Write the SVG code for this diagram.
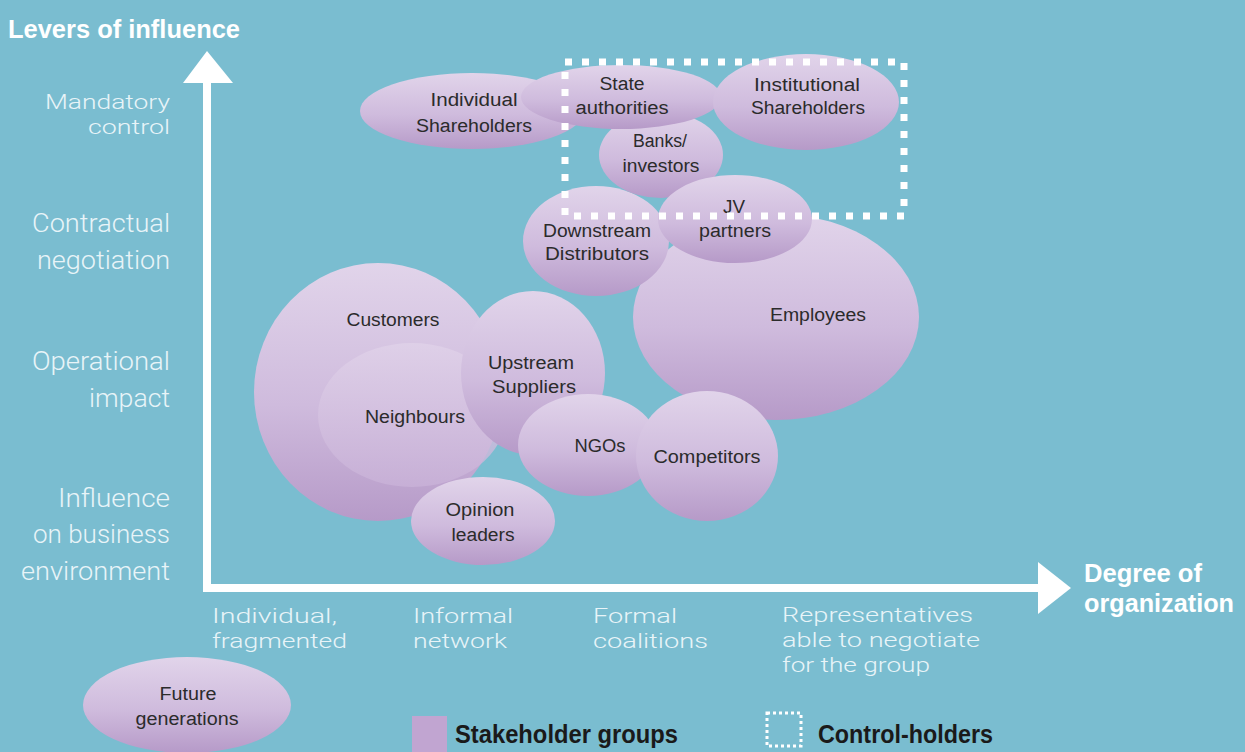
<svg xmlns="http://www.w3.org/2000/svg" width="1245" height="752" viewBox="0 0 1245 752">
<defs>
<linearGradient id="g" x1="0" y1="0" x2="0" y2="1">
<stop offset="0" stop-color="#e1d4ea"/>
<stop offset="0.55" stop-color="#cfbbdd"/>
<stop offset="1" stop-color="#b69ac8"/>
</linearGradient>
<linearGradient id="gl" x1="0" y1="0" x2="0" y2="1">
<stop offset="0" stop-color="#e0d2e9"/>
<stop offset="1" stop-color="#c9b2d8"/>
</linearGradient>
</defs>
<style>
.bub{fill:url(#g)}
.nt{font-family:"Liberation Sans",Arial,sans-serif;font-size:18px;fill:#2b2b2b;text-anchor:middle}
.ax{font-family:Roboto,"Liberation Sans",sans-serif;font-weight:300;font-size:25px;fill:#e8f4f8}
.tight{font-size:21px}
.axl{text-anchor:end}
.hd{font-family:"Liberation Sans",Arial,sans-serif;font-weight:bold;font-size:26px;fill:#ffffff}
.lg{font-family:"Liberation Sans",Arial,sans-serif;font-weight:bold;font-size:26px;fill:#1a1a1a}
.arr{stroke:#ffffff;stroke-width:8;fill:none}
.ah{fill:#ffffff}
</style>
<rect width="1245" height="752" fill="#7abdd0"/>

<text class="hd" x="8" y="38" textLength="232" lengthAdjust="spacingAndGlyphs">Levers of influence</text>
<text class="hd" x="1084" y="582" textLength="118" lengthAdjust="spacingAndGlyphs">Degree of</text>
<text class="hd" x="1084" y="612" textLength="150" lengthAdjust="spacingAndGlyphs">organization</text>

<g id="y-labels">
<text class="ax axl tight" x="170" y="109" textLength="125" lengthAdjust="spacingAndGlyphs">Mandatory</text>
<text class="ax axl tight" x="170" y="134" textLength="82" lengthAdjust="spacingAndGlyphs">control</text>
<text class="ax axl" x="170" y="232" textLength="138" lengthAdjust="spacingAndGlyphs">Contractual</text>
<text class="ax axl" x="170" y="269" textLength="133" lengthAdjust="spacingAndGlyphs">negotiation</text>
<text class="ax axl" x="170" y="370" textLength="138" lengthAdjust="spacingAndGlyphs">Operational</text>
<text class="ax axl" x="170" y="407" textLength="81" lengthAdjust="spacingAndGlyphs">impact</text>
<text class="ax axl" x="170" y="507" textLength="112" lengthAdjust="spacingAndGlyphs">Influence</text>
<text class="ax axl" x="170" y="543" textLength="137" lengthAdjust="spacingAndGlyphs">on business</text>
<text class="ax axl" x="170" y="580" textLength="149" lengthAdjust="spacingAndGlyphs">environment</text>
</g>

<g id="x-labels">
<text class="ax tight" x="212" y="623" textLength="125" lengthAdjust="spacingAndGlyphs">Individual,</text>
<text class="ax tight" x="212" y="648" textLength="135" lengthAdjust="spacingAndGlyphs">fragmented</text>
<text class="ax tight" x="413" y="623" textLength="100" lengthAdjust="spacingAndGlyphs">Informal</text>
<text class="ax tight" x="413" y="648" textLength="94" lengthAdjust="spacingAndGlyphs">network</text>
<text class="ax tight" x="593" y="623" textLength="84" lengthAdjust="spacingAndGlyphs">Formal</text>
<text class="ax tight" x="593" y="648" textLength="115" lengthAdjust="spacingAndGlyphs">coalitions</text>
<text class="ax tight" x="782" y="622" textLength="191" lengthAdjust="spacingAndGlyphs">Representatives</text>
<text class="ax tight" x="782" y="647" textLength="198" lengthAdjust="spacingAndGlyphs">able to negotiate</text>
<text class="ax tight" x="782" y="672" textLength="148" lengthAdjust="spacingAndGlyphs">for the group</text>
</g>

<g id="connectors">
<line class="arr" x1="207" y1="80" x2="207" y2="592"/>
<line class="arr" x1="203" y1="588" x2="1040" y2="588"/>
<polygon class="ah" points="183,83 207,51 233,83"/>
<polygon class="ah" points="1038,562 1071,588 1038,614"/>
</g>

<g id="employees"><ellipse class="bub" cx="776" cy="317" rx="143" ry="103"/><text class="nt" x="818" y="321" textLength="96" lengthAdjust="spacingAndGlyphs">Employees</text></g>
<g id="downstream-distributors"><ellipse class="bub" cx="596" cy="241" rx="73" ry="55"/><text class="nt" x="597" y="237" textLength="108" lengthAdjust="spacingAndGlyphs">Downstream</text><text class="nt" x="597" y="260" textLength="104" lengthAdjust="spacingAndGlyphs">Distributors</text></g>
<g id="banks-investors"><ellipse class="bub" cx="661" cy="155" rx="62" ry="43"/><text class="nt" x="660" y="147" textLength="54" lengthAdjust="spacingAndGlyphs">Banks/</text><text class="nt" x="661" y="172" textLength="77" lengthAdjust="spacingAndGlyphs">investors</text></g>
<g id="jv-partners"><ellipse class="bub" cx="735" cy="219" rx="77" ry="44"/><text class="nt" x="734" y="213" textLength="22" lengthAdjust="spacingAndGlyphs">JV</text><text class="nt" x="735" y="237" textLength="72" lengthAdjust="spacingAndGlyphs">partners</text></g>
<g id="individual-shareholders"><ellipse class="bub" cx="472" cy="111" rx="112" ry="38"/><text class="nt" x="474" y="106" textLength="87" lengthAdjust="spacingAndGlyphs">Individual</text><text class="nt" x="474" y="132" textLength="116" lengthAdjust="spacingAndGlyphs">Shareholders</text></g>
<g id="state-authorities"><ellipse class="bub" cx="621" cy="97" rx="100" ry="32"/><text class="nt" x="622" y="90" textLength="45" lengthAdjust="spacingAndGlyphs">State</text><text class="nt" x="622" y="114" textLength="93" lengthAdjust="spacingAndGlyphs">authorities</text></g>
<g id="institutional-shareholders"><ellipse class="bub" cx="806" cy="102" rx="93" ry="48"/><text class="nt" x="807" y="91" textLength="106" lengthAdjust="spacingAndGlyphs">Institutional</text><text class="nt" x="808" y="114" textLength="114" lengthAdjust="spacingAndGlyphs">Shareholders</text></g>

<g id="customers"><ellipse class="bub" cx="378" cy="392" rx="124" ry="129"/><text class="nt" x="393" y="326" textLength="93" lengthAdjust="spacingAndGlyphs">Customers</text></g>
<g id="neighbours"><ellipse fill="url(#gl)" cx="412" cy="415" rx="94" ry="72" opacity="0.8"/><text class="nt" x="415" y="423" textLength="100" lengthAdjust="spacingAndGlyphs">Neighbours</text></g>
<g id="upstream-suppliers"><ellipse class="bub" cx="533" cy="373" rx="72" ry="82"/><text class="nt" x="531" y="369" textLength="86" lengthAdjust="spacingAndGlyphs">Upstream</text><text class="nt" x="534" y="393" textLength="84" lengthAdjust="spacingAndGlyphs">Suppliers</text></g>
<g id="ngos"><ellipse class="bub" cx="588" cy="445" rx="70" ry="51"/><text class="nt" x="600" y="452" textLength="51" lengthAdjust="spacingAndGlyphs">NGOs</text></g>
<g id="competitors"><ellipse class="bub" cx="707" cy="456" rx="71" ry="65"/><text class="nt" x="707" y="463" textLength="107" lengthAdjust="spacingAndGlyphs">Competitors</text></g>
<g id="opinion-leaders"><ellipse class="bub" cx="483" cy="521" rx="72" ry="44"/><text class="nt" x="480" y="516" textLength="69" lengthAdjust="spacingAndGlyphs">Opinion</text><text class="nt" x="483" y="541" textLength="63" lengthAdjust="spacingAndGlyphs">leaders</text></g>
<g id="future-generations"><ellipse class="bub" cx="187" cy="705" rx="104" ry="48"/><text class="nt" x="188" y="700" textLength="57" lengthAdjust="spacingAndGlyphs">Future</text><text class="nt" x="187" y="725" textLength="103" lengthAdjust="spacingAndGlyphs">generations</text></g>

<g id="control-holders">
<rect x="565" y="62" width="339" height="154" fill="none" stroke="#ffffff" stroke-width="7" stroke-dasharray="7 10"/>
</g>

<g id="legend">
<rect x="412" y="716" width="35" height="36" fill="#c1a5d1"/>
<text class="lg" x="455" y="743" textLength="223" lengthAdjust="spacingAndGlyphs">Stakeholder groups</text>
<rect x="767" y="713" width="34" height="33" fill="none" stroke="#ffffff" stroke-width="3" stroke-dasharray="3 3"/>
<text class="lg" x="818" y="743" textLength="175" lengthAdjust="spacingAndGlyphs">Control-holders</text>
</g>
</svg>
